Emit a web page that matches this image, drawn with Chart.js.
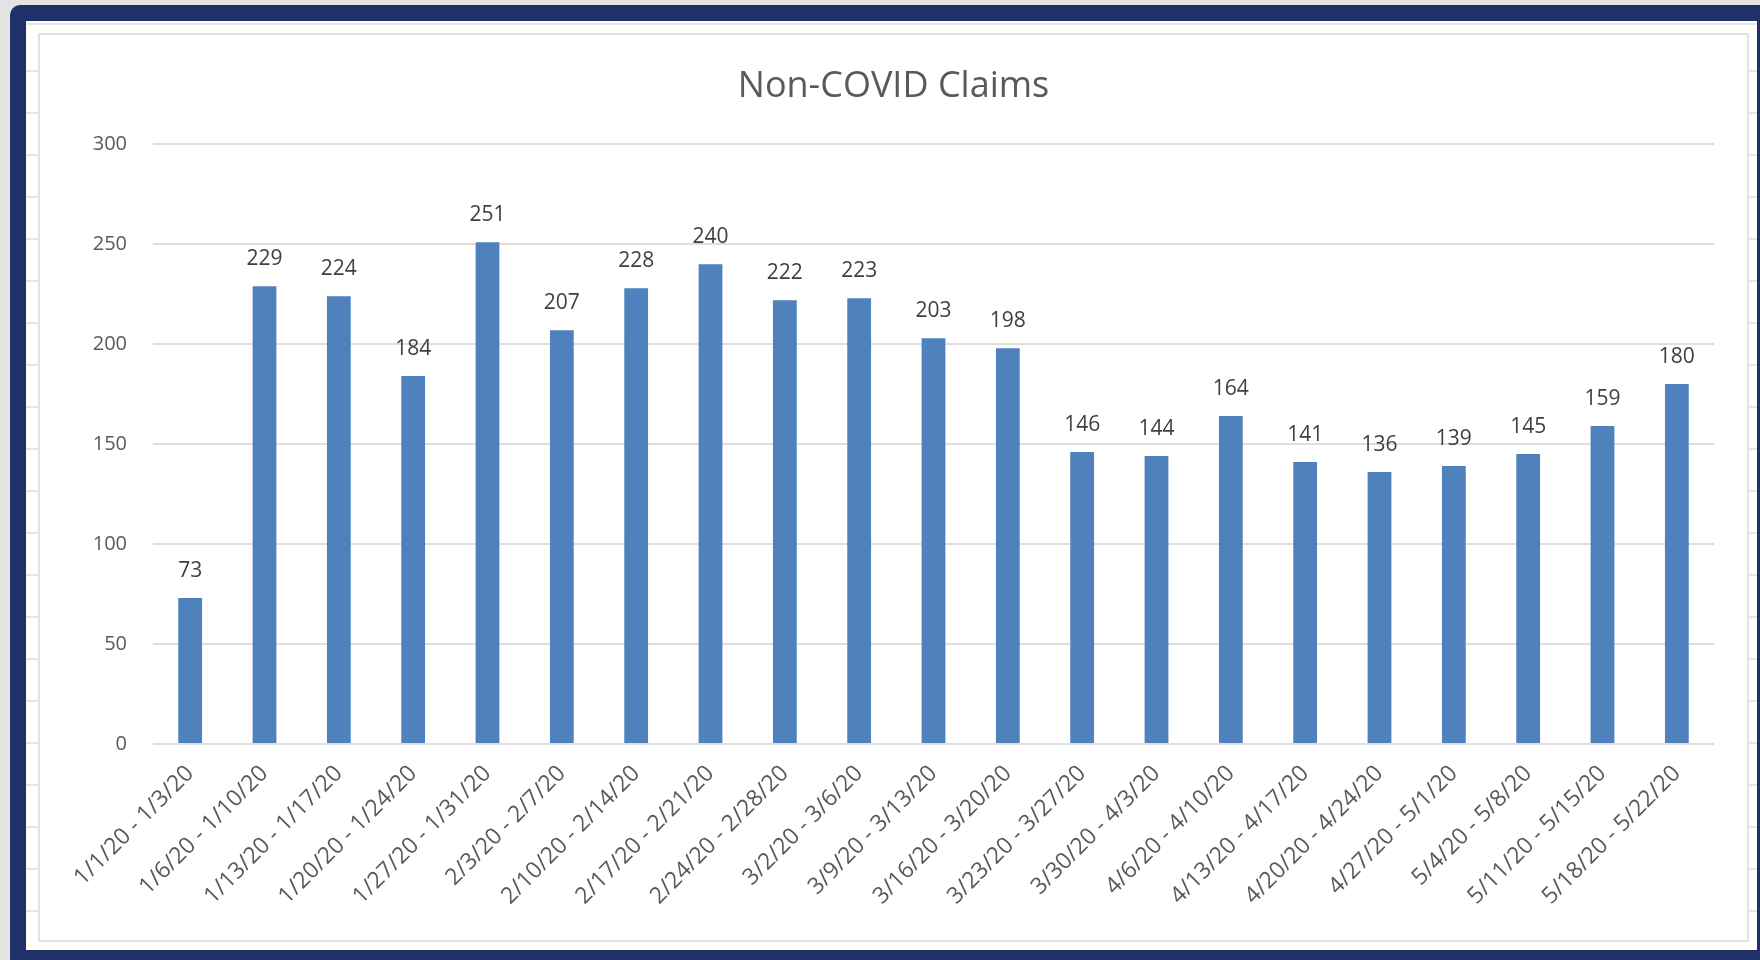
<!DOCTYPE html>
<html>
<head>
<meta charset="utf-8">
<script src="https://cdn.jsdelivr.net/npm/chart.js@4/dist/chart.umd.min.js"></script>
<style>
  html, body { margin: 0; padding: 0; }
  body { width: 1760px; height: 960px; background: #e4e4e4; position: relative; overflow: hidden; font-family: "Open Sans", sans-serif; }
  #frame { position: absolute; left: 10px; top: 5px; width: 1750px; height: 955px; background: #1f3168; border-top-left-radius: 10px; }
  #sheet { position: absolute; left: 26px; top: 21px; width: 1731px; height: 929px; background-color: #ffffff;
    background-image: repeating-linear-gradient(to bottom, transparent 0px, transparent 40px, #e6e6e6 40px, #e6e6e6 42px); background-position: 0 9px; }
  #box { position: absolute; left: 40px; top: 35px; width: 1707px; height: 905px; background: #ffffff; box-shadow: 0 0 0 2px #e2e2e2; }
  canvas { display: block; }
</style>
</head>
<body>
<div id="frame"></div>
<div id="sheet"></div>
<div id="box"><canvas id="c" width="1707" height="905"></canvas></div>
<script>
const categories = [
  "1/1/20 - 1/3/20", "1/6/20 - 1/10/20", "1/13/20 - 1/17/20", "1/20/20 - 1/24/20",
  "1/27/20 - 1/31/20", "2/3/20 - 2/7/20", "2/10/20 - 2/14/20", "2/17/20 - 2/21/20",
  "2/24/20 - 2/28/20", "3/2/20 - 3/6/20", "3/9/20 - 3/13/20", "3/16/20 - 3/20/20",
  "3/23/20 - 3/27/20", "3/30/20 - 4/3/20", "4/6/20 - 4/10/20", "4/13/20 - 4/17/20",
  "4/20/20 - 4/24/20", "4/27/20 - 5/1/20", "5/4/20 - 5/8/20", "5/11/20 - 5/15/20",
  "5/18/20 - 5/22/20"
];
const claims = [73, 229, 224, 184, 251, 207, 228, 240, 222, 223, 203, 198, 146, 144, 164, 141, 136, 139, 145, 159, 180];
const yTicks = [0, 50, 100, 150, 200, 250, 300];
const chartTitle = "Non-COVID Claims";

const FONT = "'Open Sans', sans-serif";

const valueLabels = {
  id: 'valueLabels',
  afterDatasetsDraw(chart) {
    const ctx = chart.ctx;
    const meta = chart.getDatasetMeta(0);
    ctx.save();
    ctx.font = "21px " + FONT;
    ctx.fillStyle = "#404040";
    ctx.textAlign = "center";
    ctx.textBaseline = "middle";
    meta.data.forEach((bar, i) => {
      ctx.fillText(String(claims[i]), bar.x, bar.y - 27);
    });
    ctx.restore();
  }
};

new Chart(document.getElementById('c'), {
  type: 'bar',
  data: {
    labels: categories,
    datasets: [{
      label: chartTitle,
      data: claims,
      backgroundColor: '#4f81bd',
      borderWidth: 0,
      barPercentage: 0.64,
      categoryPercentage: 0.5
    }]
  },
  options: {
    responsive: false,
    animation: false,
    events: [],
    layout: { padding: { left: 33, right: 33, top: 0, bottom: 0 } },
    plugins: {
      legend: { display: false },
      tooltip: { enabled: false },
      title: {
        display: true,
        text: chartTitle,
        color: '#595959',
        font: { family: FONT, size: 36, weight: 'normal', lineHeight: 1.2 },
        padding: { top: 30, bottom: 36 }
      }
    },
    scales: {
      x: {
        grid: { display: false },
        border: { display: false },
        ticks: {
          color: '#595959',
          font: { family: FONT, size: 23 },
          minRotation: 45,
          maxRotation: 45,
          autoSkip: false,
          padding: 8
        },
        afterFit(scale) { scale.height = 196; }
      },
      y: {
        min: 0,
        max: 300,
        afterBuildTicks(scale) { scale.ticks = yTicks.map(v => ({ value: v })); },
        grid: { color: '#dedede', lineWidth: 2, drawTicks: false },
        border: { display: false },
        ticks: {
          color: '#595959',
          font: { family: FONT, size: 20 },
          padding: 26
        },
        afterFit(scale) { scale.width = 80; }
      }
    }
  },
  plugins: [valueLabels]
});
</script>
</body>
</html>
